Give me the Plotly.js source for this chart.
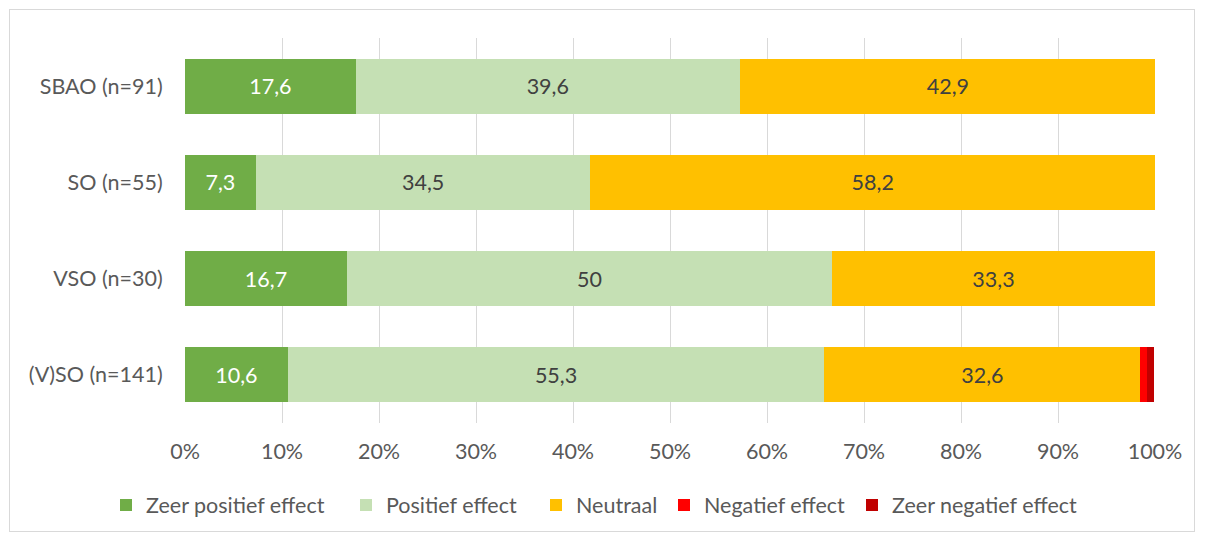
<!DOCTYPE html>
<html>
<head>
<meta charset="utf-8">
<script src="https://cdn.plot.ly/plotly-3.0.1.min.js"></script>
<style>
html,body{margin:0;padding:0;background:#fff;}
#frame{position:absolute;left:9px;top:9px;width:1186px;height:523px;border:1px solid #d9d9d9;box-sizing:border-box;}
#chart{position:absolute;left:0;top:0;width:1205px;height:541px;}
</style>
</head>
<body>
<div id="frame"></div>
<div id="chart"></div>
<script>
const categories = ["SBAO (n=91)", "SO (n=55)", "VSO (n=30)", "(V)SO (n=141)"];
const seriesNames = ["Zeer positief effect", "Positief effect", "Neutraal", "Negatief effect", "Zeer negatief effect"];
const zeerPositief = [17.6, 7.3, 16.7, 10.6];
const positief = [39.6, 34.5, 50, 55.3];
const neutraal = [42.9, 58.2, 33.3, 32.6];
const negatief = [0, 0, 0, 0.7];
const zeerNegatief = [0, 0, 0, 0.7];
const seriesValues = [zeerPositief, positief, neutraal, negatief, zeerNegatief];
const seriesColors = ["#70AD47", "#C5E0B4", "#FFC000", "#FF0000", "#C00000"];
const labelColors = ["#FFFFFF", "#404040", "#404040", "#404040", "#404040"];
const xTickVals = [0,10,20,30,40,50,60,70,80,90,100];

const FONT = "Lato, 'Open Sans', sans-serif";
const FS = 21.5;

// legend entry left positions (pixels in page) and plot geometry
const legendPx = [120, 360, 550, 678, 866];
const plotLeft = 185, plotWidth = 970;
const legendKeys = ['legend', 'legend2', 'legend3', 'legend4', 'legend5'];

const traces = seriesValues.map((vals, i) => ({
  type: 'bar',
  orientation: 'h',
  name: seriesNames[i],
  legend: legendKeys[i],
  y: categories,
  x: vals,
  marker: {color: seriesColors[i], line: {width: 0}},
  text: vals.map(v => v >= 3 ? String(v).replace('.', ',') : ''),
  textposition: 'inside',
  insidetextanchor: 'middle',
  textangle: 0,
  constraintext: 'none',
  textfont: {family: FONT, size: FS, color: labelColors[i]},
  hoverinfo: 'none'
}));

const layout = {
  width: 1205,
  height: 541,
  margin: {l: 185, r: 50, t: 38, b: 118},
  paper_bgcolor: 'rgba(0,0,0,0)',
  plot_bgcolor: 'rgba(0,0,0,0)',
  barmode: 'stack',
  bargap: 0.43,
  showlegend: true,
  font: {family: FONT, size: FS, color: '#595959'},
  xaxis: {
    range: [0, 100],
    tickvals: xTickVals,
    ticktext: xTickVals.map(v => v + '%'),
    showgrid: true,
    gridcolor: '#d9d9d9',
    gridwidth: 1,
    zeroline: false,
    showline: false,
    ticks: 'outside',
    ticklen: 9,
    tickcolor: 'rgba(0,0,0,0)',
    tickfont: {family: FONT, size: FS, color: '#595959'},
    fixedrange: true
  },
  yaxis: {
    autorange: 'reversed',
    showgrid: false,
    zeroline: false,
    showline: false,
    ticks: 'outside',
    ticklen: 17,
    tickcolor: 'rgba(0,0,0,0)',
    tickfont: {family: FONT, size: FS, color: '#595959'},
    fixedrange: true
  }
};

legendKeys.forEach((k, i) => {
  layout[k] = {
    orientation: 'h',
    x: (legendPx[i] - 14 - plotLeft) / plotWidth,
    xanchor: 'left',
    y: -0.213,
    yanchor: 'middle',
    font: {family: FONT, size: FS, color: '#595959'},
    bgcolor: 'rgba(0,0,0,0)',
    itemclick: false,
    itemdoubleclick: false
  };
});

Plotly.newPlot('chart', traces, layout, {staticPlot: true, displayModeBar: false});
</script>
</body>
</html>
